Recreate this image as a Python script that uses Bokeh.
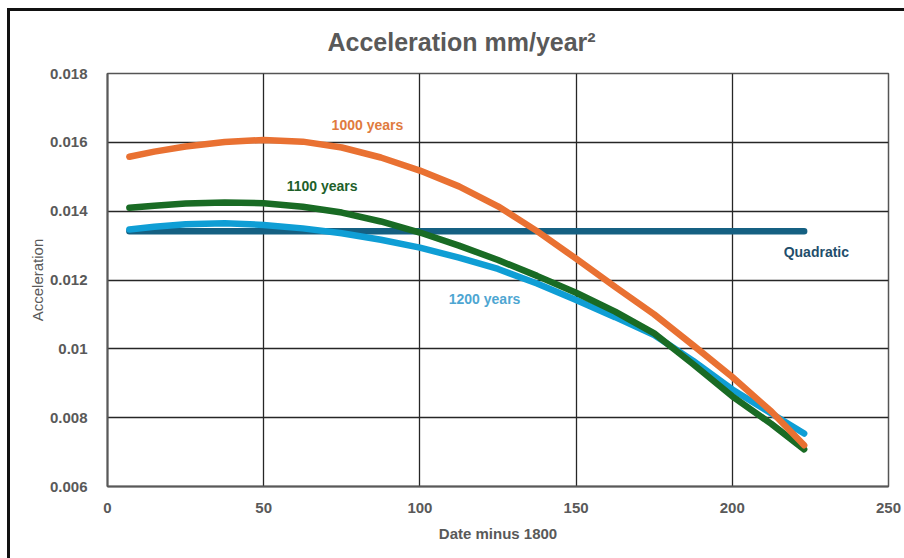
from bokeh.plotting import figure
from bokeh.models import Label, FixedTicker
from bokeh.embed import file_html
from bokeh.resources import INLINE

# Years after 1800 at which each fitted acceleration curve is evaluated
years = [7, 15, 25, 37.5, 50, 62.5, 75, 87.5, 100, 112.5, 125, 137.5,
         150, 162.5, 175, 187.5, 200, 212.5, 223]

# Acceleration (mm/year^2) for each fitting window
acc_1000 = [0.01558, 0.01573, 0.01588, 0.01601, 0.01607, 0.01602, 0.01585,
            0.01556, 0.01518, 0.01472, 0.01414, 0.01342, 0.01262, 0.01180,
            0.01100, 0.01010, 0.00918, 0.00818, 0.00720]
acc_1100 = [0.01410, 0.01416, 0.01422, 0.01425, 0.01423, 0.01413, 0.01396,
            0.01370, 0.01338, 0.01300, 0.01258, 0.01212, 0.01163, 0.01108,
            0.01045, 0.00955, 0.00862, 0.00782, 0.00708]
acc_1200 = [0.01347, 0.01355, 0.01362, 0.01365, 0.01360, 0.01350, 0.01336,
            0.01317, 0.01294, 0.01265, 0.01232, 0.01190, 0.01142, 0.01092,
            0.01040, 0.00965, 0.00882, 0.00812, 0.00754]
quadratic_value = 0.01342
acc_quad = [quadratic_value for _ in years]

x_ticks = [0, 50, 100, 150, 200, 250]
y_ticks = [0.006, 0.008, 0.010, 0.012, 0.014, 0.016, 0.018]
y_tick_labels = ["0.006", "0.008", "0.01", "0.012", "0.014", "0.016", "0.018"]

FONT = "Liberation Sans, Arial, sans-serif"
GREY = "#595959"

p = figure(
    frame_width=781, frame_height=413,
    min_border_left=97, min_border_right=16,
    min_border_top=62, min_border_bottom=72,
    x_range=(0, 250), y_range=(0.006, 0.018),
    output_backend="svg", toolbar_location=None,
    title="Acceleration mm/year\u00b2",
)
p.styles = {
    "margin-left": "7px", "margin-top": "8px",
    "border-top": "3px solid #111111", "border-left": "3px solid #111111",
}
p.background_fill_color = "white"
p.border_fill_color = "white"
p.outline_line_color = "#555555"
p.outline_line_width = 1.5

# Title
p.title.align = "left"
p.title.offset = 220
p.title.text_font = FONT
p.title.text_font_size = "25px"
p.title.text_font_style = "bold"
p.title.text_color = GREY
p.title.vertical_align = "top"
p.title.standoff = 32

# Axes
p.xaxis.ticker = FixedTicker(ticks=x_ticks)
p.yaxis.ticker = FixedTicker(ticks=y_ticks)
p.yaxis.major_label_overrides = dict(zip(y_ticks, y_tick_labels))
p.xaxis.axis_label = "Date minus 1800"
p.yaxis.axis_label = "Acceleration"
for ax in (p.xaxis, p.yaxis):
    ax.major_tick_line_color = None
    ax.minor_tick_line_color = None
    ax.axis_line_color = "#595959"
    ax.axis_line_width = 2
    ax.major_label_text_font = FONT
    ax.major_label_text_font_size = "15px"
    ax.major_label_text_font_style = "bold"
    ax.major_label_text_color = GREY
    ax.axis_label_text_font = FONT
    ax.axis_label_text_color = GREY
p.xaxis.major_label_standoff = 10
p.yaxis.major_label_standoff = 14
p.xaxis.axis_label_text_font_size = "15px"
p.yaxis.axis_label_text_font_size = "15px"
p.xaxis.axis_label_standoff = 9
p.yaxis.axis_label_standoff = 1
p.xaxis.axis_label_text_font_style = "bold"
p.yaxis.axis_label_text_font_style = "normal"

p.xgrid.ticker = FixedTicker(ticks=x_ticks)
p.ygrid.ticker = FixedTicker(ticks=y_ticks)
for g in (p.xgrid, p.ygrid):
    g.grid_line_color = "#262626"
    g.grid_line_width = 1.3

# Curves
p.line(years, acc_quad, line_color="#156082", line_width=6.5, line_cap="round")
p.line(years, acc_1200, line_color="#0F9ED5", line_width=6.5, line_cap="round")
p.line(years, acc_1100, line_color="#196B24", line_width=6.5, line_cap="round")
p.line(years, acc_1000, line_color="#E97132", line_width=6.5, line_cap="round")

# Series labels
series_labels = [
    ("1000 years", 83.2, 0.01649, "#E07B3E"),
    ("1100 years", 68.7, 0.01472, "#1E5F2A"),
    ("1200 years", 120.7, 0.01146, "#4EA6D2"),
    ("Quadratic", 226.9, 0.01280, "#1F4E6B"),
]
for text, lx, ly, col in series_labels:
    p.add_layout(Label(x=lx, y=ly, text=text, text_align="center",
                       text_baseline="middle", text_font=FONT,
                       text_font_size="14px", text_font_style="bold",
                       text_color=col))

open("out.html", "w").write(file_html(p, INLINE))
